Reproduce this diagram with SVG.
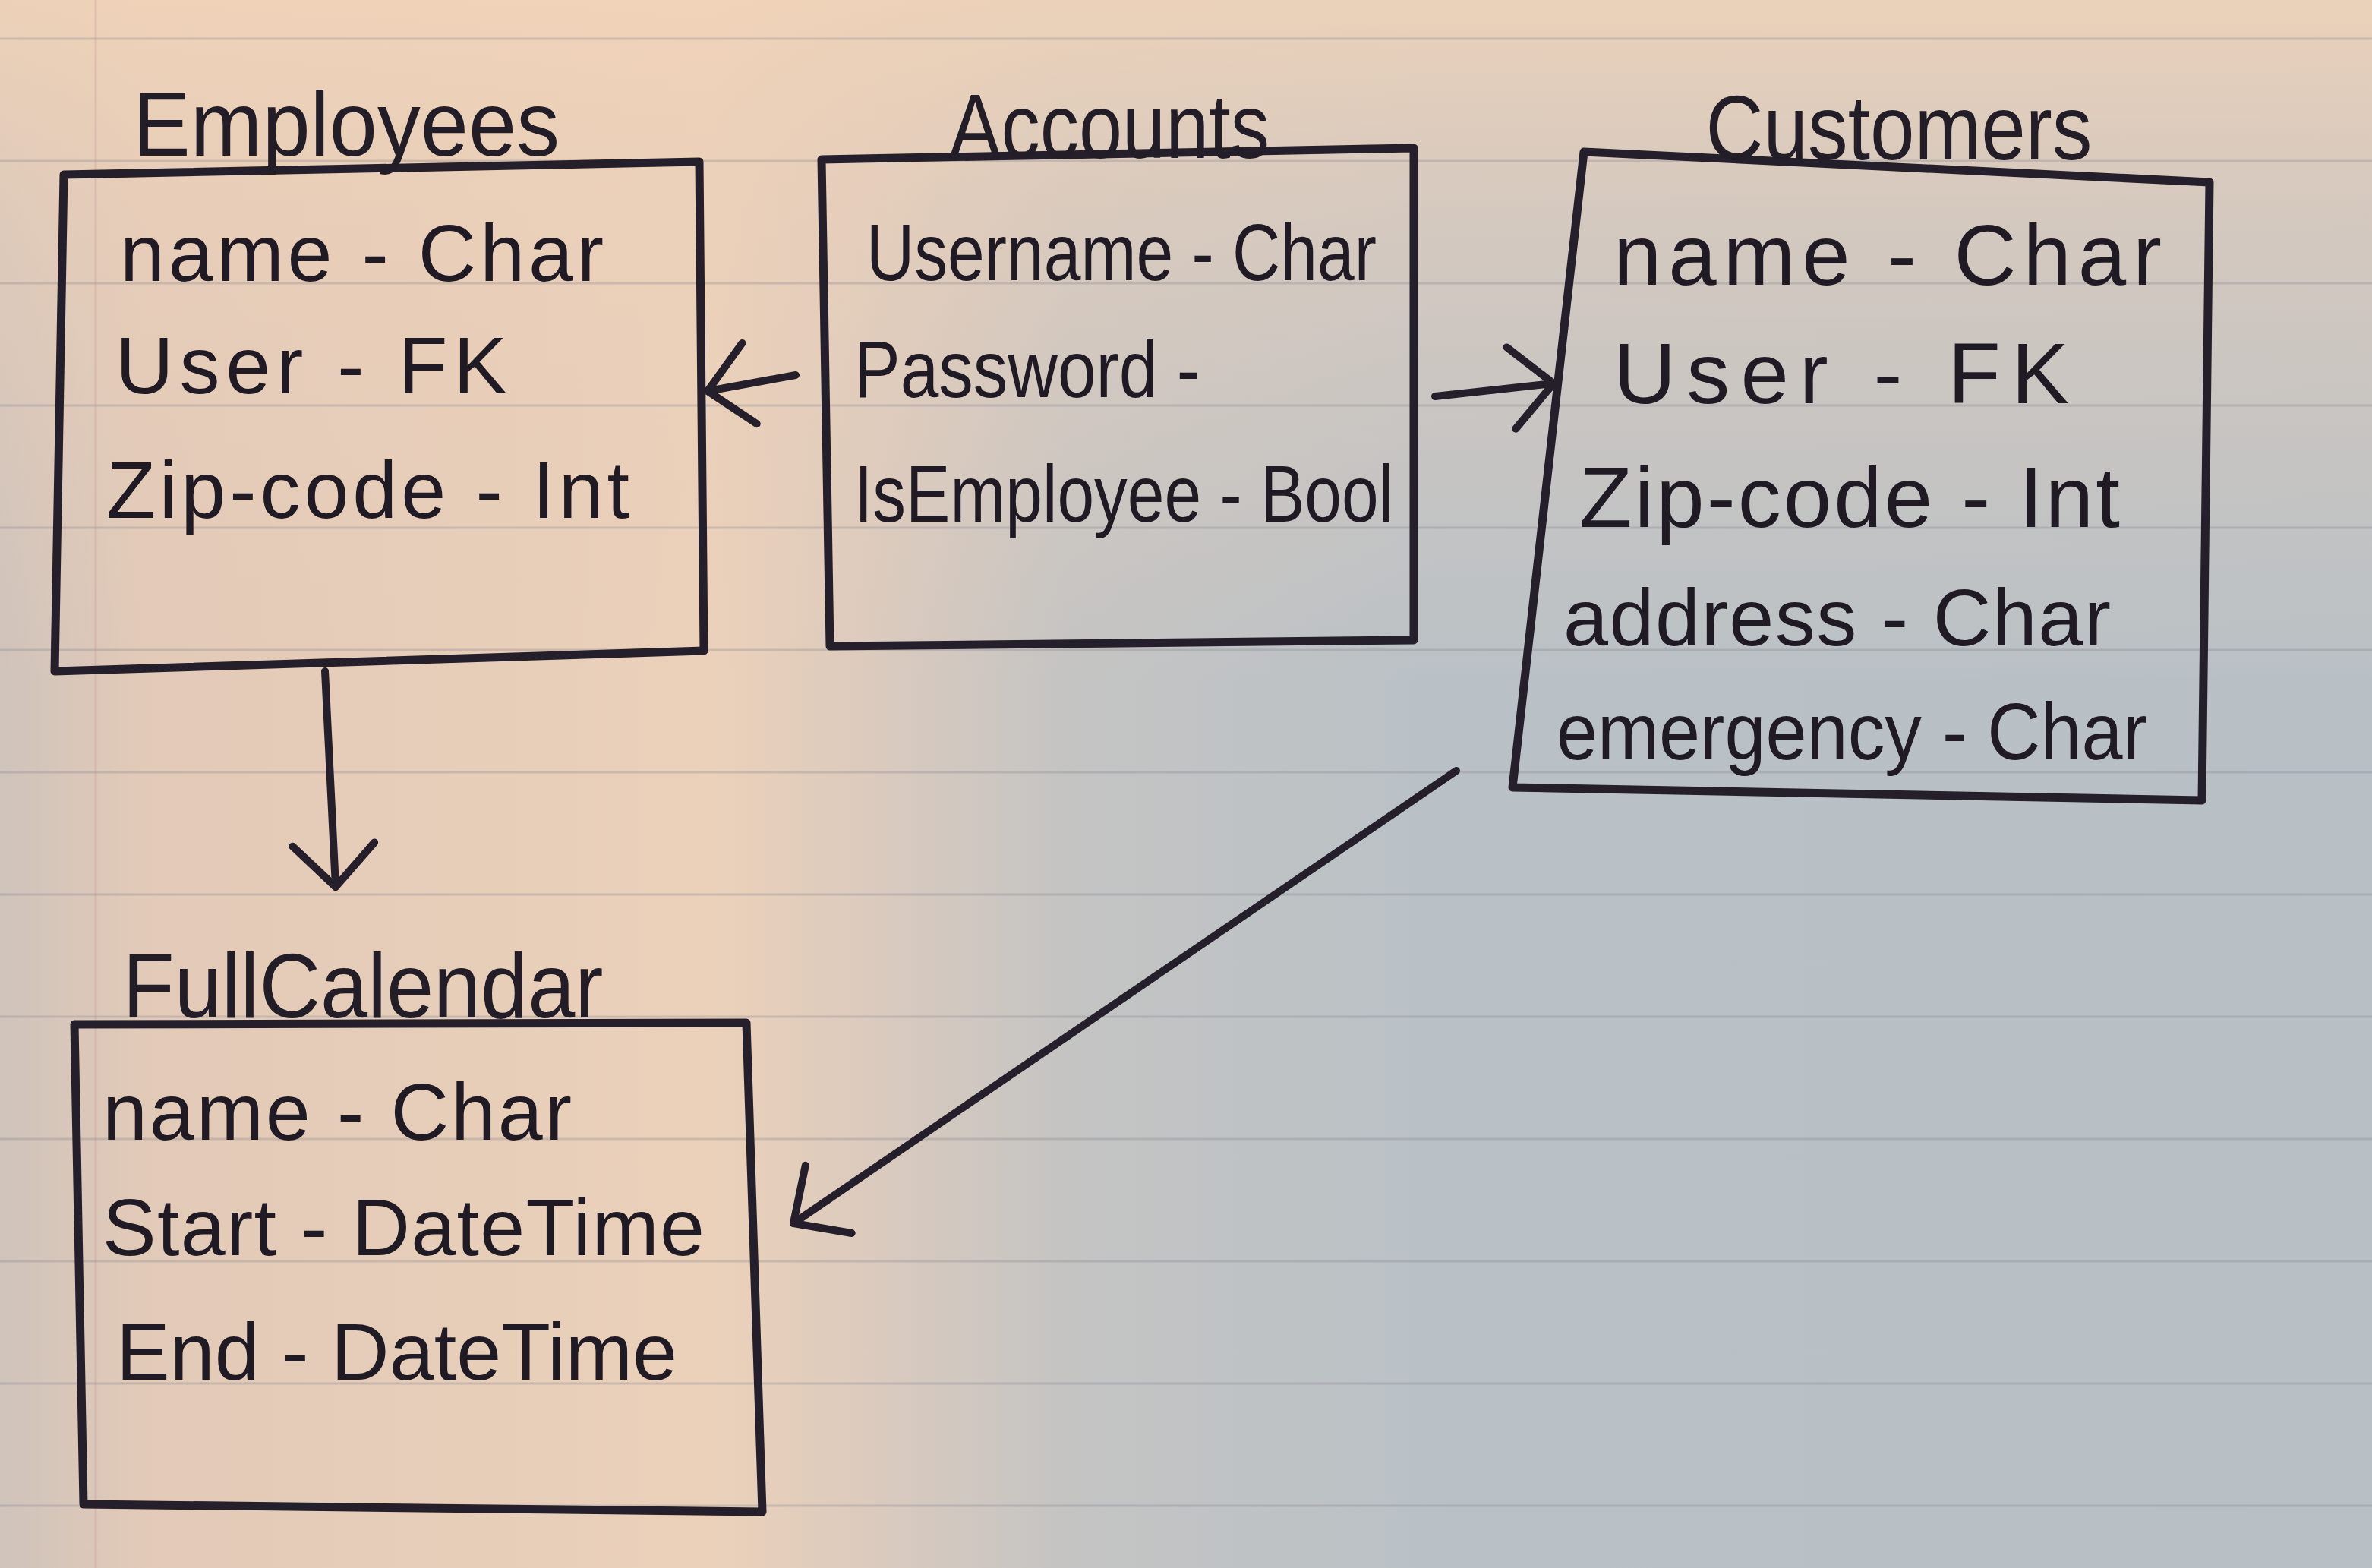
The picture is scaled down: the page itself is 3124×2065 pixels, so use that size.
<svg xmlns="http://www.w3.org/2000/svg" width="3124" height="2065" viewBox="0 0 3124 2065">
<style>
.box{fill:none;stroke:#241f2a;stroke-width:11;stroke-linejoin:round;stroke-linecap:round}
.title{font-family:"Liberation Sans",Arial,sans-serif;font-size:120px;fill:#221d27;text-anchor:middle}
.row{font-family:"Liberation Sans",Arial,sans-serif;font-size:106px;fill:#1f1a24}
.big{font-size:114px}
.edge{fill:none;stroke:#241f2a;stroke-width:10;stroke-linecap:round}
.rule{stroke:#7d7f88;stroke-opacity:0.28;stroke-width:3}
</style>
<defs>
<linearGradient id="bgH" gradientUnits="userSpaceOnUse" x1="0" y1="0" x2="3124" y2="0">
<stop offset="0" stop-color="#cfc3bb"/>
<stop offset="0.06" stop-color="#e2cab8"/>
<stop offset="0.3" stop-color="#ebd1ba"/>
<stop offset="0.36" stop-color="#ddcbbd"/>
<stop offset="0.45" stop-color="#c4c4c3"/>
<stop offset="0.6" stop-color="#bac1c6"/>
<stop offset="1" stop-color="#b9c0c5"/>
</linearGradient>
<linearGradient id="bgV" gradientUnits="userSpaceOnUse" x1="0" y1="0" x2="0" y2="900">
<stop offset="0" stop-color="#f0d3b8" stop-opacity="0.9"/>
<stop offset="0.3" stop-color="#ecd0b9" stop-opacity="0.55"/>
<stop offset="1" stop-color="#e6cdba" stop-opacity="0"/>
</linearGradient>
<marker id="arrow" markerUnits="userSpaceOnUse" orient="auto" markerWidth="140" markerHeight="140" refX="0" refY="0" viewBox="-70 -70 140 140" overflow="visible">
<path d="M -56 -54 L 0 0 L -56 54" fill="none" stroke="#241f2a" stroke-width="10" stroke-linecap="round" stroke-linejoin="round"/>
</marker>
</defs>
<g id="paper">
<rect x="0" y="0" width="3124" height="2065" fill="url(#bgH)"/>
<rect x="0" y="0" width="3124" height="900" fill="url(#bgV)"/>
<g class="rule">
<line x1="0" y1="51" x2="3124" y2="51"/>
<line x1="0" y1="212" x2="3124" y2="212"/>
<line x1="0" y1="373" x2="3124" y2="373"/>
<line x1="0" y1="534" x2="3124" y2="534"/>
<line x1="0" y1="695" x2="3124" y2="695"/>
<line x1="0" y1="856" x2="3124" y2="856"/>
<line x1="0" y1="1017" x2="3124" y2="1017"/>
<line x1="0" y1="1178" x2="3124" y2="1178"/>
<line x1="0" y1="1339" x2="3124" y2="1339"/>
<line x1="0" y1="1500" x2="3124" y2="1500"/>
<line x1="0" y1="1661" x2="3124" y2="1661"/>
<line x1="0" y1="1822" x2="3124" y2="1822"/>
<line x1="0" y1="1983" x2="3124" y2="1983"/>
</g>
<line x1="126" y1="0" x2="126" y2="2065" stroke="#b98c8c" stroke-opacity="0.25" stroke-width="3"/>
</g>
<g id="connectors">
<line class="edge" x1="1048" y1="494" x2="932" y2="515" marker-end="url(#arrow)"/>
<line class="edge" x1="1890" y1="522" x2="2046" y2="505" marker-end="url(#arrow)"/>
<line class="edge" x1="428" y1="884" x2="442" y2="1168" marker-end="url(#arrow)"/>
<line class="edge" x1="1918" y1="1015" x2="1045" y2="1611" marker-end="url(#arrow)"/>
</g>
<g id="employees">
<path class="box" d="M 84 230 L 921 213 L 927 857 L 72 884 Z"/>
<text class="title" x="456" y="205" textLength="562" lengthAdjust="spacingAndGlyphs">Employees</text>
<text class="row" x="158" y="370" textLength="637" lengthAdjust="spacing">name - Char</text>
<text class="row" x="152" y="518" textLength="516" lengthAdjust="spacing">User - FK</text>
<text class="row" x="140" y="682" textLength="689" lengthAdjust="spacing">Zip-code - Int</text>
</g>
<g id="accounts">
<path class="box" d="M 1082 210 L 1862 195 L 1862 843 L 1093 851 Z"/>
<text class="title" x="1461" y="208" textLength="422" lengthAdjust="spacingAndGlyphs">Accounts</text>
<text class="row" x="1141" y="369" textLength="672" lengthAdjust="spacingAndGlyphs">Username - Char</text>
<text class="row" x="1125" y="523" textLength="455" lengthAdjust="spacingAndGlyphs">Password -</text>
<text class="row" x="1125" y="687" textLength="710" lengthAdjust="spacingAndGlyphs">IsEmployee - Bool</text>
</g>
<g id="customers">
<path class="box" d="M 2086 200 L 2910 240 L 2900 1054 L 1992 1037 Z"/>
<text class="title" x="2501" y="210" textLength="509" lengthAdjust="spacingAndGlyphs">Customers</text>
<text class="row big" x="2125" y="375" textLength="722" lengthAdjust="spacing">name - Char</text>
<text class="row big" x="2125" y="531" textLength="600" lengthAdjust="spacing">User - FK</text>
<text class="row big" x="2080" y="694" textLength="712" lengthAdjust="spacing">Zip-code - Int</text>
<text class="row" x="2059" y="850" textLength="721" lengthAdjust="spacing">address - Char</text>
<text class="row" x="2050" y="1000" textLength="778" lengthAdjust="spacingAndGlyphs">emergency - Char</text>
</g>
<g id="fullcalendar">
<path class="box" d="M 98 1349 L 983 1347 L 1004 1991 L 110 1981 Z"/>
<text class="title" x="478" y="1340" textLength="633" lengthAdjust="spacingAndGlyphs">FullCalendar</text>
<text class="row" x="135" y="1501" textLength="618" lengthAdjust="spacing">name - Char</text>
<text class="row" x="135" y="1653" textLength="793" lengthAdjust="spacing">Start - DateTime</text>
<text class="row" x="153" y="1817" textLength="739" lengthAdjust="spacing">End - DateTime</text>
</g>
</svg>
